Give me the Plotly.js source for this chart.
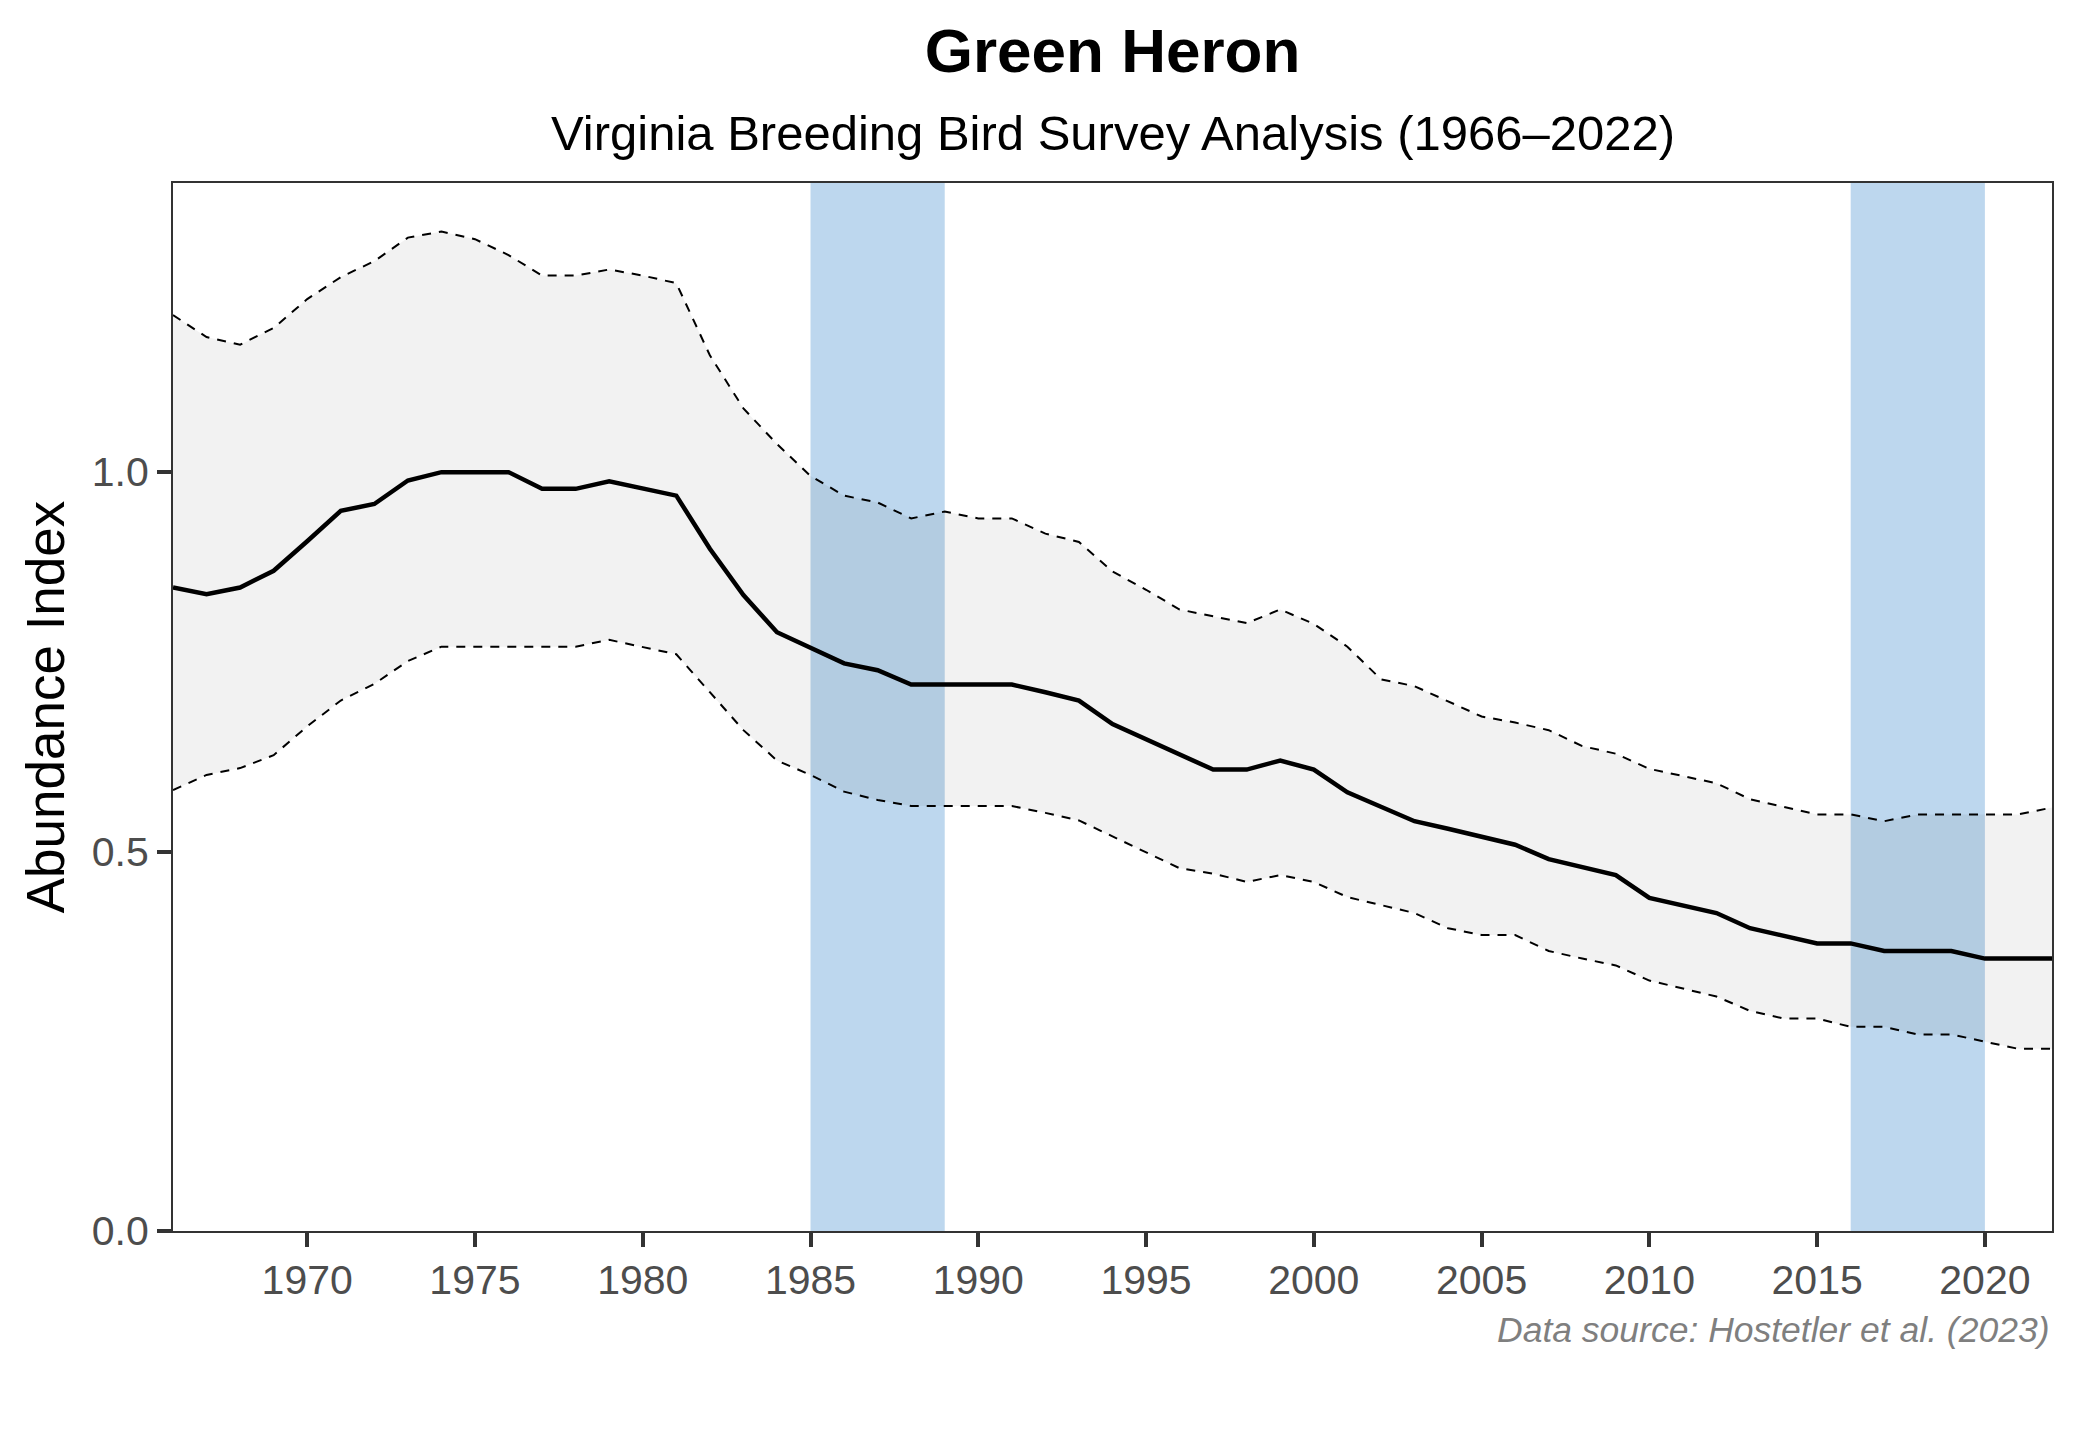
<!DOCTYPE html>
<html>
<head>
<meta charset="utf-8">
<script src="https://cdn.plot.ly/plotly-3.0.1.min.js"></script>
<style>html,body{margin:0;padding:0;background:#fff;}#chart{width:2080px;height:1440px;}</style>
</head>
<body>
<div id="chart"></div>
<script>
const years = [1966,1967,1968,1969,1970,1971,1972,1973,1974,1975,1976,1977,1978,1979,1980,1981,1982,1983,1984,1985,1986,1987,1988,1989,1990,1991,1992,1993,1994,1995,1996,1997,1998,1999,2000,2001,2002,2003,2004,2005,2006,2007,2008,2009,2010,2011,2012,2013,2014,2015,2016,2017,2018,2019,2020,2021,2022];
const abundance = [0.848,0.839,0.848,0.870,0.909,0.949,0.958,0.989,1.000,1.000,1.000,0.978,0.978,0.988,0.979,0.969,0.899,0.838,0.789,0.769,0.748,0.739,0.720,0.720,0.720,0.720,0.710,0.699,0.668,0.648,0.627,0.608,0.608,0.620,0.608,0.578,0.559,0.540,0.530,0.519,0.509,0.490,0.480,0.469,0.439,0.429,0.419,0.399,0.389,0.379,0.379,0.369,0.369,0.369,0.359,0.359,0.359];
const upperCI = [1.207,1.178,1.168,1.190,1.228,1.257,1.278,1.309,1.317,1.307,1.286,1.259,1.259,1.267,1.259,1.249,1.154,1.084,1.037,0.995,0.969,0.960,0.939,0.948,0.939,0.939,0.919,0.908,0.869,0.845,0.819,0.810,0.801,0.819,0.800,0.770,0.727,0.718,0.698,0.678,0.670,0.660,0.639,0.629,0.609,0.600,0.590,0.569,0.559,0.549,0.549,0.540,0.549,0.549,0.549,0.549,0.558];
const lowerCI = [0.581,0.601,0.610,0.627,0.665,0.699,0.721,0.751,0.770,0.770,0.770,0.770,0.770,0.779,0.770,0.760,0.710,0.660,0.620,0.601,0.579,0.568,0.560,0.560,0.560,0.560,0.551,0.541,0.520,0.499,0.478,0.471,0.460,0.469,0.460,0.440,0.430,0.419,0.399,0.390,0.390,0.369,0.359,0.350,0.330,0.319,0.309,0.290,0.280,0.280,0.269,0.269,0.259,0.259,0.249,0.240,0.240];
const bandStart = [1985, 2016];
const bandEnd = [1989, 2020];
const xTicks = [1970,1975,1980,1985,1990,1995,2000,2005,2010,2015,2020];
const yTicks = [0, 0.5, 1.0];
const yTickText = ['0.0', '0.5', '1.0'];

const FONT = '"Liberation Sans", Arial, Helvetica, sans-serif';

const traces = [
  {x: years, y: lowerCI, type: 'scatter', mode: 'lines',
   line: {color: '#000', width: 2, dash: '9px,8px'}, hoverinfo: 'skip', showlegend: false},
  {x: years, y: upperCI, type: 'scatter', mode: 'lines', fill: 'tonexty',
   fillcolor: 'rgba(0,0,0,0.05)',
   line: {color: '#000', width: 2, dash: '9px,8px'}, hoverinfo: 'skip', showlegend: false},
  {x: years, y: abundance, type: 'scatter', mode: 'lines',
   line: {color: '#000', width: 4.5}, showlegend: false}
];

const shapes = bandStart.map((s, i) => ({
  type: 'rect', xref: 'x', yref: 'paper', x0: s, x1: bandEnd[i], y0: 0, y1: 1,
  fillcolor: '#BDD7EE', line: {width: 0}, layer: 'below'
}));

const T = 183, B = 1231, H = B - T;

const layout = {
  width: 2080, height: 1440,
  margin: {l: 173, r: 28, t: T, b: 1440 - B},
  paper_bgcolor: '#fff', plot_bgcolor: '#fff',
  font: {family: FONT, color: '#000'},
  title: {text: '<b>Green Heron</b>', font: {family: FONT, size: 62, color: '#000'},
          x: 0.5, xref: 'paper', xanchor: 'center', y: 1 - 50/1440, yref: 'container', yanchor: 'middle'},
  xaxis: {range: [1966, 2022], tickvals: xTicks, ticktext: xTicks.map(String),
          ticks: 'outside', ticklen: 14, tickwidth: 4, tickcolor: '#333',
          showline: true, linecolor: '#333', linewidth: 2, mirror: true,
          showgrid: false, zeroline: false, ticklabelstandoff: -2,
          tickfont: {family: FONT, size: 41, color: '#4d4d4d'}},
  yaxis: {range: [0, 1.381], tickvals: yTicks, ticktext: yTickText,
          ticks: 'outside', ticklen: 14, tickwidth: 4, tickcolor: '#333',
          showline: true, linecolor: '#333', linewidth: 2, mirror: true,
          showgrid: false, zeroline: false,
          tickfont: {family: FONT, size: 41, color: '#4d4d4d'},
          title: {text: 'Abundance Index', font: {family: FONT, size: 53, color: '#000'}, standoff: 10},
          automargin: true},
  shapes: shapes,
  annotations: [
    {text: 'Virginia Breeding Bird Survey Analysis (1966–2022)', xref: 'paper', yref: 'paper',
     x: 0.5, y: 1 + (T - 133)/H, xanchor: 'center', yanchor: 'middle', showarrow: false,
     font: {family: FONT, size: 49, color: '#000'}},
    {text: '<i>Data source: Hostetler et al. (2023)</i>', xref: 'paper', yref: 'paper',
     x: 1, y: -(1330 - B)/H, xanchor: 'right', yanchor: 'middle', showarrow: false,
     font: {family: FONT, size: 35.5, color: '#7f7f7f'}}
  ]
};

Plotly.newPlot('chart', traces, layout, {displayModeBar: false, staticPlot: true});
</script>
</body>
</html>
